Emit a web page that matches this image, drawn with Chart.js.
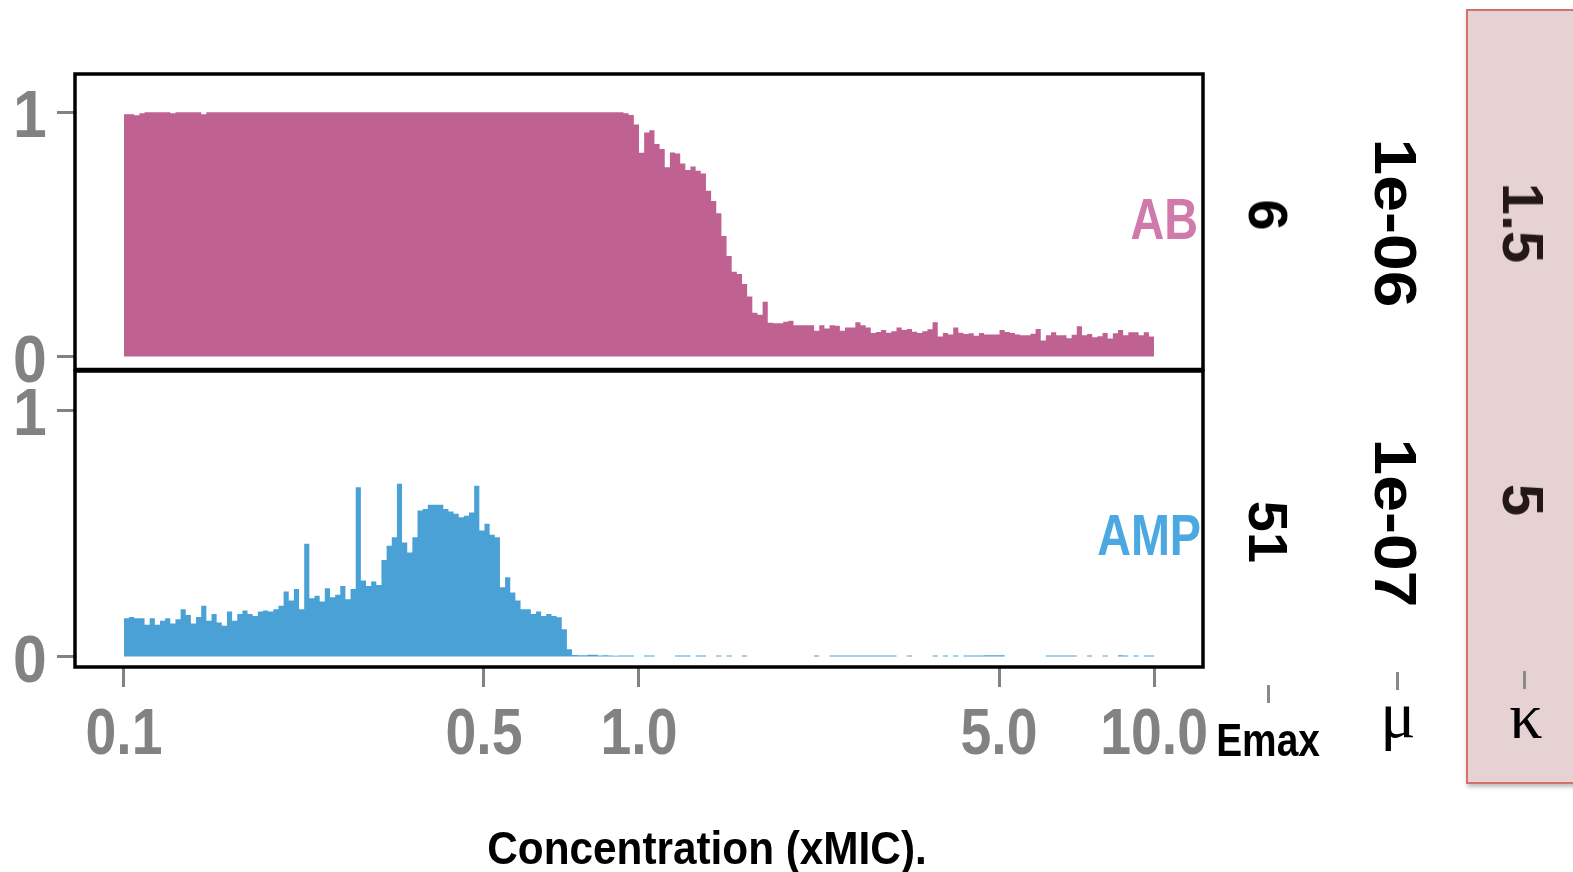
<!DOCTYPE html>
<html>
<head>
<meta charset="utf-8">
<title>AB / AMP concentration</title>
<script src="https://cdn.jsdelivr.net/npm/chart.js@4.4.0/dist/chart.umd.min.js"></script>
<style>
    html, body { margin: 0; padding: 0; background: #fff; }
    #wrap { position: relative; width: 1573px; height: 872px; overflow: hidden; }
    #wrap canvas { position: absolute; left: 0; top: 0; }
    .rot { position: absolute; font-family: 'Liberation Sans', Arial, sans-serif; font-weight: bold; line-height: 1; white-space: nowrap; }
    .tick { position: absolute; width: 3px; background: #8a8a8a; }
    .lab { position: absolute; line-height: 1; white-space: nowrap; }
    #kbox { position: absolute; left: 1466px; top: 9px; width: 200px; height: 771px; background: #e6d2d2; border: 2px solid #d4716c; box-shadow: 1px 3px 4px rgba(0,0,0,0.25); }
</style>
</head>
<body>
<div id="wrap">
    <div id="kbox"></div>
    <canvas id="topPanel" width="1573" height="420"></canvas>
    <canvas id="bottomPanel" width="1573" height="872"></canvas>

    <div class="rot" style="left:1268px; top:215px; font-size:56px; color:#000; transform: translate(-50%, -50%) rotate(90deg);">6</div>
    <div class="rot" style="left:1268px; top:532px; font-size:56px; color:#000; transform: translate(-50%, -50%) rotate(90deg);">51</div>
    <div class="rot" style="left:1395px; top:223px; font-size:60px; color:#000; transform: translate(-50%, -50%) rotate(90deg) scaleX(1.1);">1e-06</div>
    <div class="rot" style="left:1395px; top:523px; font-size:60px; color:#000; transform: translate(-50%, -50%) rotate(90deg) scaleX(1.1);">1e-07</div>
    <div class="rot" style="left:1523px; top:223px; font-size:58px; color:#231816; transform: translate(-50%, -50%) rotate(90deg);">1.5</div>
    <div class="rot" style="left:1523px; top:500px; font-size:58px; color:#231816; transform: translate(-50%, -50%) rotate(90deg);">5</div>

    <div class="tick" style="left:1267px; top:685px; height:18px;"></div>
    <div class="tick" style="left:1396px; top:672px; height:18px;"></div>
    <div class="tick" style="left:1523px; top:671px; height:18px;"></div>
    <div class="lab" style="left:1268px; top:713px; font: bold 46px 'Liberation Sans', Arial, sans-serif; color:#000; transform: translateX(-50%) scaleX(0.845);">Emax</div>
    <div class="lab" style="left:1398px; top:677px; font: 66px 'Liberation Serif', serif; color:#000; transform: translateX(-50%);">μ</div>
    <div class="lab" style="left:1526px; top:678px; font: 66px 'Liberation Serif', serif; color:#000; transform: translateX(-50%);">κ</div>
    <div class="lab" style="left:707px; top:820px; font: bold 47px 'Liberation Sans', Arial, sans-serif; color:#000; transform: translateX(-50%) scaleX(0.9);">Concentration (xMIC).</div>
</div>

<script>
// histogram bins: 100 per decade, 0.1 .. 10 (log spaced)
const LOG_START = -1;
const BINS_PER_DECADE = 100;
const N_BINS = 200;
const binEdges = Array.from({ length: N_BINS + 1 }, (_, i) => Math.pow(10, LOG_START + i / BINS_PER_DECADE));

// AB (top panel), one value per bin
const abValues = [
    0.992, 0.992, 0.988, 0.996, 1, 1, 1, 1, 1, 0.996,
    1, 1, 1, 1, 1, 0.992, 1, 1, 1, 1,
    1, 1, 1, 1, 1, 1, 1, 1, 1, 1,
    1, 1, 1, 1, 1, 1, 1, 1, 1, 1,
    1, 1, 1, 1, 1, 1, 1, 1, 1, 1,
    1, 1, 1, 1, 1, 1, 1, 1, 1, 1,
    1, 1, 1, 1, 1, 1, 1, 1, 1, 1,
    1, 1, 1, 1, 1, 1, 1, 1, 1, 1,
    1, 1, 1, 1, 1, 1, 1, 1, 1, 1,
    1, 1, 1, 1, 1, 1, 1, 0.996, 0.989, 0.950,
    0.835, 0.918, 0.927, 0.870, 0.850, 0.775, 0.836, 0.832, 0.791, 0.764,
    0.778, 0.761, 0.750, 0.679, 0.637, 0.587, 0.494, 0.412, 0.347, 0.338,
    0.297, 0.246, 0.180, 0.171, 0.225, 0.139, 0.137, 0.137, 0.143, 0.147,
    0.128, 0.128, 0.128, 0.128, 0.106, 0.128, 0.115, 0.128, 0.126, 0.106,
    0.119, 0.119, 0.141, 0.128, 0.119, 0.097, 0.101, 0.109, 0.098, 0.104,
    0.119, 0.109, 0.113, 0.102, 0.097, 0.104, 0.112, 0.141, 0.082, 0.097,
    0.091, 0.119, 0.098, 0.093, 0.096, 0.085, 0.097, 0.091, 0.091, 0.091,
    0.109, 0.101, 0.097, 0.090, 0.087, 0.087, 0.094, 0.113, 0.066, 0.087,
    0.100, 0.087, 0.087, 0.075, 0.089, 0.124, 0.087, 0.093, 0.079, 0.083,
    0.097, 0.074, 0.096, 0.109, 0.087, 0.100, 0.100, 0.087, 0.100, 0.082
];

// AMP (bottom panel), one value per bin
const ampValues = [
    0.156, 0.161, 0.156, 0.156, 0.129, 0.156, 0.129, 0.146, 0.156, 0.134,
    0.152, 0.192, 0.169, 0.134, 0.161, 0.206, 0.146, 0.173, 0.138, 0.125,
    0.183, 0.146, 0.173, 0.187, 0.173, 0.165, 0.183, 0.187, 0.183, 0.192,
    0.206, 0.264, 0.228, 0.274, 0.192, 0.458, 0.237, 0.247, 0.224, 0.278,
    0.241, 0.251, 0.287, 0.233, 0.274, 0.688, 0.309, 0.287, 0.305, 0.291,
    0.392, 0.450, 0.485, 0.702, 0.463, 0.423, 0.485, 0.593, 0.599, 0.617,
    0.617, 0.617, 0.599, 0.589, 0.580, 0.566, 0.572, 0.585, 0.694, 0.512,
    0.539, 0.495, 0.485, 0.282, 0.322, 0.260, 0.228, 0.192, 0.192, 0.173,
    0.183, 0.165, 0.173, 0.165, 0.160, 0.111, 0.030, 0.007, 0.005, 0.005,
    0.008, 0.008, 0.004, 0.006, 0.004, 0.003, 0.004, 0.004, 0.004, 0,
    0, 0.004, 0.004, 0, 0, 0, 0, 0.004, 0.004, 0.004,
    0, 0.004, 0.004, 0, 0, 0.004, 0, 0.004, 0, 0,
    0.004, 0, 0, 0, 0, 0, 0, 0, 0, 0,
    0, 0, 0, 0, 0.004, 0, 0, 0.004, 0.004, 0.004,
    0.004, 0.004, 0.004, 0.004, 0.004, 0.004, 0.004, 0.004, 0.004, 0.004,
    0, 0, 0.004, 0, 0, 0, 0, 0.004, 0, 0.004,
    0, 0.004, 0, 0.004, 0.004, 0.004, 0.004, 0.006, 0.006, 0.006,
    0.006, 0, 0, 0, 0, 0, 0, 0, 0, 0.004,
    0.004, 0.004, 0.004, 0.004, 0.004, 0, 0, 0.004, 0, 0,
    0.004, 0, 0, 0.006, 0.004, 0, 0.004, 0, 0.004, 0.004
];

const xTickValues = [0.1, 0.5, 1, 5, 10];
const xTickLabels = ['0.1', '0.5', '1.0', '5.0', '10.0'];
const yTickValues = [0, 1];
const yTickLabels = ['0', '1'];

const SANS = "'Liberation Sans', Arial, sans-serif";
const GREY = '#828282';
const AB_COLOR = '#bf6191';
const AMP_COLOR = '#4aa1d5';

const X_MIN = 0.08035;
const X_MAX = 12.446;

// histogram outline as a stepped, filled line
const toSteps = (vals) => binEdges.map((x, i) => ({ x: x, y: vals[Math.min(i, vals.length - 1)] }));

// narrow bold text (the original uses a condensed face)
const fillCondensed = (ctx, text, x, y, sx) => {
    ctx.save();
    ctx.translate(x, y);
    ctx.scale(sx, 1);
    ctx.fillText(text, 0, 0);
    ctx.restore();
};

const framePlugin = {
    id: 'panelFrame',
    afterDraw(chart) {
        const { ctx, chartArea: a } = chart;
        ctx.save();
        ctx.lineWidth = 3.5;
        ctx.strokeStyle = '#000';
        ctx.strokeRect(a.left, a.top, a.right - a.left, a.bottom - a.top);
        ctx.restore();
    }
};

const tickLabelPlugin = {
    id: 'tickLabels',
    afterDraw(chart) {
        const { ctx, scales } = chart;
        ctx.save();
        ctx.fillStyle = GREY;
        ctx.textAlign = 'center';
        ctx.textBaseline = 'alphabetic';
        ctx.font = 'bold 66px ' + SANS;
        scales.y.ticks.forEach((t, i) => {
            fillCondensed(ctx, yTickLabels[i], 30, scales.y.getPixelForValue(t.value) + 25, 0.92);
        });
        if (scales.x.options.display) {
            ctx.font = 'bold 64px ' + SANS;
            scales.x.ticks.forEach((t, i) => {
                fillCondensed(ctx, xTickLabels[i], scales.x.getPixelForValue(t.value), scales.x.top + 87, 0.865);
            });
        }
        ctx.restore();
    }
};

const labelPlugin = {
    id: 'panelLabel',
    afterDatasetsDraw(chart, args, opts) {
        const { ctx, chartArea: a } = chart;
        ctx.save();
        ctx.font = 'bold ' + opts.size + 'px ' + SANS;
        ctx.fillStyle = opts.color;
        ctx.textAlign = 'right';
        ctx.textBaseline = 'alphabetic';
        fillCondensed(ctx, opts.text, a.right - opts.dx, a.top + opts.dy, 0.82);
        ctx.restore();
    }
};

const yAxis = (min, max) => ({
    min: min,
    max: max,
    afterBuildTicks: (s) => { s.ticks = yTickValues.map(v => ({ value: v })); },
    afterFit: (s) => { s.width = 75; },
    ticks: { display: false },
    grid: { drawOnChartArea: false, drawTicks: true, tickLength: 18, color: GREY, lineWidth: 3 },
    border: { display: false }
});

const makePanel = (id, values, color, yMin, yMax, padding, showX, label) => {
    const xScale = {
        type: 'logarithmic',
        min: X_MIN,
        max: X_MAX,
        display: showX
    };
    if (showX) {
        Object.assign(xScale, {
            afterBuildTicks: (s) => { s.ticks = xTickValues.map(v => ({ value: v })); },
            afterFit: (s) => { s.height = 205; },
            ticks: { display: false },
            grid: { drawOnChartArea: false, drawTicks: true, tickLength: 20, color: GREY, lineWidth: 3 },
            border: { display: false }
        });
    }

    return new Chart(document.getElementById(id), {
        type: 'line',
        data: {
            datasets: [{
                label: label.text,
                data: toSteps(values),
                stepped: true,
                fill: 'origin',
                backgroundColor: color,
                borderColor: 'rgba(0,0,0,0)',
                borderWidth: 0,
                pointRadius: 0
            }]
        },
        options: {
            responsive: false,
            animation: false,
            events: [],
            layout: { padding: padding },
            plugins: {
                legend: { display: false },
                tooltip: { enabled: false },
                panelLabel: label
            },
            scales: {
                x: xScale,
                y: yAxis(yMin, yMax)
            }
        },
        plugins: [framePlugin, tickLabelPlugin, labelPlugin]
    });
};

makePanel('topPanel', abValues, AB_COLOR, -0.0528, 1.157,
    { top: 74, left: 0, right: 370, bottom: 50.5 }, false,
    { text: 'AB', color: '#d07aab', size: 57, dx: 5, dy: 165 });

makePanel('bottomPanel', ampValues, AMP_COLOR, -0.0422, 1.1596,
    { top: 371, left: 0, right: 370, bottom: 0 }, true,
    { text: 'AMP', color: '#4ba8e0', size: 57, dx: 2, dy: 184 });
</script>
</body>
</html>
